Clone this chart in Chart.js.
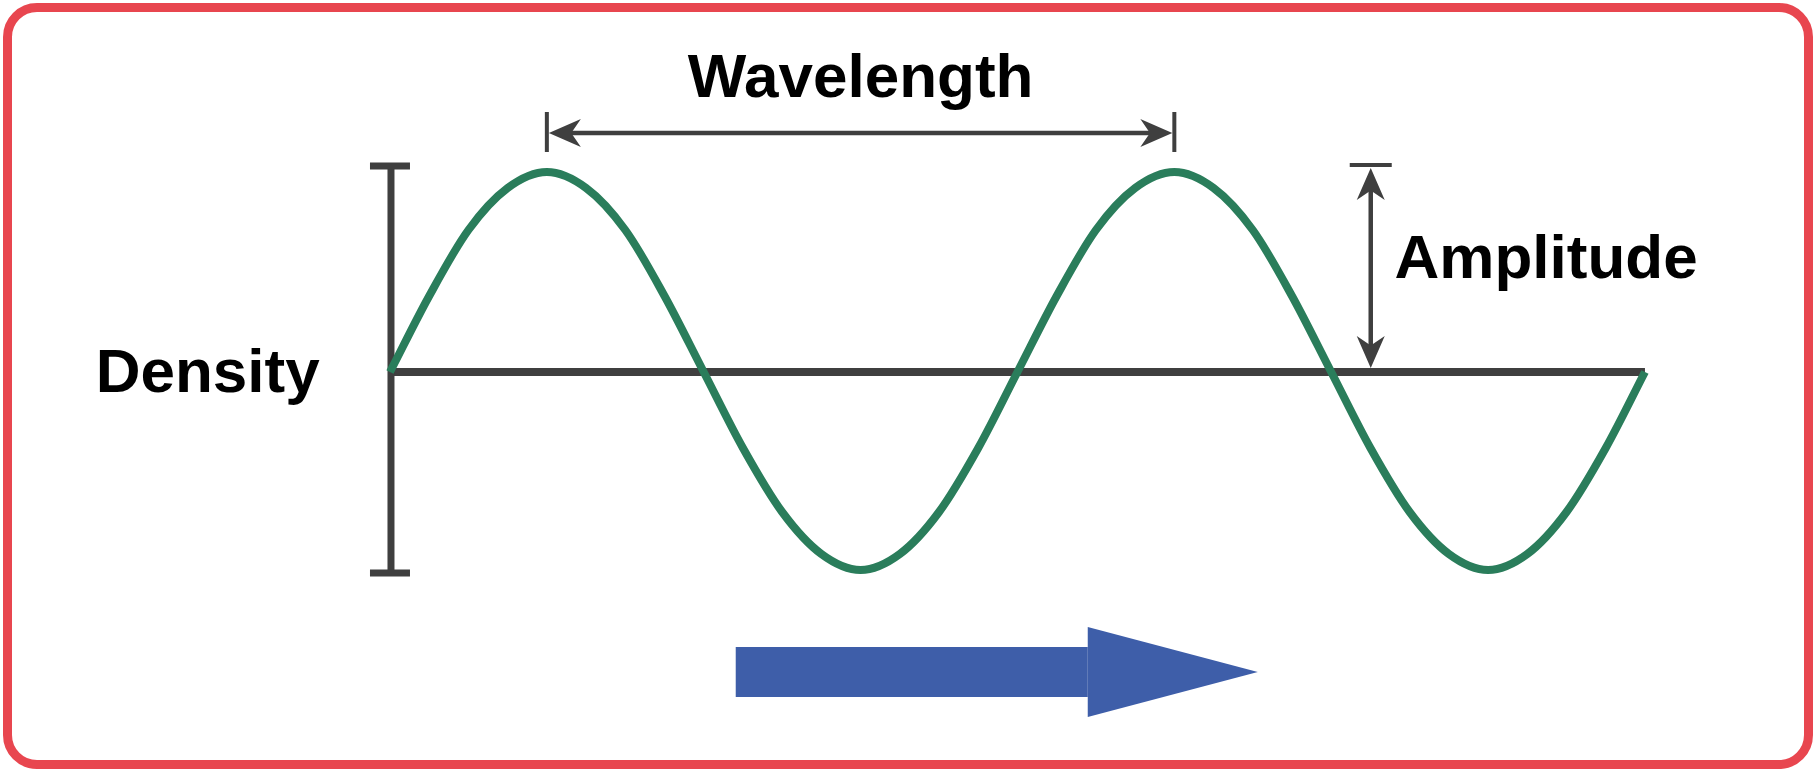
<!DOCTYPE html>
<html>
<head>
<meta charset="utf-8">
<script src="https://cdn.jsdelivr.net/npm/chart.js@4"></script>
<style>
    html, body { margin: 0; padding: 0; background: #ffffff; }
    #wrap { position: relative; width: 1815px; height: 771px; overflow: hidden; }
    #frame {
        position: absolute; left: 3px; top: 3px; width: 1810px; height: 766px;
        box-sizing: border-box; border: 9px solid #e8464f; border-radius: 34px;
        pointer-events: none;
    }
</style>
</head>
<body>
<div id="wrap">
    <canvas id="waveChart" width="1815" height="771"></canvas>
    <div id="frame"></div>
</div>
<script>
// Wave samples, read every 1/16 wavelength (x in wavelengths, y in amplitudes)
const wavePhase = [0, 0.0625, 0.125, 0.1875, 0.25, 0.3125, 0.375, 0.4375,
                   0.5, 0.5625, 0.625, 0.6875, 0.75, 0.8125, 0.875, 0.9375,
                   1, 1.0625, 1.125, 1.1875, 1.25, 1.3125, 1.375, 1.4375,
                   1.5, 1.5625, 1.625, 1.6875, 1.75, 1.8125, 1.875, 1.9375, 2];
const waveDensity = [0, 0.38, 0.71, 0.92, 1, 0.92, 0.71, 0.38,
                     0, -0.38, -0.7, -0.91, -0.99, -0.91, -0.7, -0.38,
                     0, 0.38, 0.71, 0.92, 1, 0.92, 0.71, 0.38,
                     0, -0.38, -0.7, -0.91, -0.99, -0.91, -0.7, -0.38, 0];

// Labels on the diagram
const titleWavelength = 'Wavelength';
const titleAmplitude = 'Amplitude';
const titleDensity = 'Density';

// Where the annotations sit, in the same units as the data
const layoutMarks = {
    axisEnd: 2,
    barTop: 1.03, barBottom: -1.005,
    waveArrowFrom: 0.25, waveArrowTo: 1.25, waveArrowY: 1.195,
    ampArrowX: 1.563, ampTop: 1.035,
    flowShaft: [0.551, 1.112, -1.375, -1.625],
    flowHead: [1.112, 1.383, -1.275, -1.725, -1.5],
    wavelengthText: [0.75, 1.375],
    amplitudeText: [1.601, 0.47],
    densityText: [-0.112, -0.1]
};

const DARK = '#3f3f3f';
const GREEN = '#2a7d5b';
const BLUE = '#3e5ea9';
const FONT = 'bold 62px "Liberation Sans", Arial, sans-serif';

function arrowHead(ctx, tx, ty, dx, dy, len, half) {
    // dx, dy: unit vector pointing towards the tip
    const nx = -dy, ny = dx;
    const bx = tx - dx * len, by = ty - dy * len;
    const mx = tx - dx * len * 0.7, my = ty - dy * len * 0.7;
    ctx.beginPath();
    ctx.moveTo(tx, ty);
    ctx.lineTo(bx + nx * half, by + ny * half);
    ctx.lineTo(mx, my);
    ctx.lineTo(bx - nx * half, by - ny * half);
    ctx.closePath();
    ctx.fill();
}

function line(ctx, x1, y1, x2, y2, w) {
    ctx.lineWidth = w;
    ctx.beginPath();
    ctx.moveTo(x1, y1);
    ctx.lineTo(x2, y2);
    ctx.stroke();
}

const diagramPlugin = {
    id: 'diagram',
    beforeDatasetsDraw(chart) {
        const ctx = chart.ctx;
        const px = v => chart.scales.x.getPixelForValue(v);
        const py = v => chart.scales.y.getPixelForValue(v);
        const m = layoutMarks;
        ctx.save();
        ctx.strokeStyle = DARK;
        ctx.lineCap = 'butt';
        // baseline
        line(ctx, px(0), py(0), px(m.axisEnd), py(0), 8);
        // density bar with caps
        line(ctx, px(0) + 1, py(m.barTop), px(0) + 1, py(m.barBottom), 7);
        line(ctx, px(0) - 20, py(m.barTop), px(0) + 20, py(m.barTop), 7);
        line(ctx, px(0) - 20, py(m.barBottom), px(0) + 20, py(m.barBottom), 7);
        ctx.restore();
    },
    afterDatasetsDraw(chart) {
        const ctx = chart.ctx;
        const px = v => chart.scales.x.getPixelForValue(v);
        const py = v => chart.scales.y.getPixelForValue(v);
        const m = layoutMarks;
        ctx.save();
        ctx.strokeStyle = DARK;
        ctx.fillStyle = DARK;

        // wavelength arrow
        const wy = py(m.waveArrowY);
        const wx1 = px(m.waveArrowFrom), wx2 = px(m.waveArrowTo);
        line(ctx, wx1 + 10, wy, wx2 - 10, wy, 4.5);
        line(ctx, wx1, wy - 21, wx1, wy + 19, 4);
        line(ctx, wx2, wy - 21, wx2, wy + 19, 4);
        arrowHead(ctx, wx1 + 2, wy, -1, 0, 32, 14);
        arrowHead(ctx, wx2 - 2, wy, 1, 0, 32, 14);

        // amplitude arrow
        const ax = px(m.ampArrowX);
        const aTop = py(m.ampTop), aBot = py(0) - 4;
        line(ctx, ax, aTop + 10, ax, aBot - 10, 4.5);
        line(ctx, ax - 21, aTop, ax + 21, aTop, 4);
        arrowHead(ctx, ax, aTop + 3, 0, -1, 32, 14);
        arrowHead(ctx, ax, aBot, 0, 1, 32, 14);

        // propagation arrow
        const s = m.flowShaft, h = m.flowHead;
        ctx.fillStyle = BLUE;
        ctx.fillRect(px(s[0]), py(s[2]), px(s[1]) - px(s[0]), py(s[3]) - py(s[2]));
        ctx.beginPath();
        ctx.moveTo(px(h[0]), py(h[2]));
        ctx.lineTo(px(h[1]), py(h[4]));
        ctx.lineTo(px(h[0]), py(h[3]));
        ctx.closePath();
        ctx.fill();

        // labels
        ctx.fillStyle = '#000000';
        ctx.font = FONT;
        ctx.textBaseline = 'alphabetic';
        ctx.textAlign = 'center';
        ctx.fillText(titleWavelength, px(m.wavelengthText[0]), py(m.wavelengthText[1]));
        ctx.textAlign = 'left';
        ctx.fillText(titleAmplitude, px(m.amplitudeText[0]), py(m.amplitudeText[1]));
        ctx.textAlign = 'right';
        ctx.fillText(titleDensity, px(m.densityText[0]), py(m.densityText[1]));
        ctx.restore();
    }
};

const points = wavePhase.map((p, i) => ({ x: p, y: waveDensity[i] }));

new Chart(document.getElementById('waveChart').getContext('2d'), {
    type: 'line',
    data: {
        datasets: [{
            data: points,
            borderColor: GREEN,
            borderWidth: 8,
            pointRadius: 0,
            fill: false,
            cubicInterpolationMode: 'monotone'
        }]
    },
    options: {
        responsive: false,
        devicePixelRatio: 1,
        animation: false,
        layout: { padding: 0 },
        plugins: { legend: { display: false }, tooltip: { enabled: false } },
        scales: {
            x: { type: 'linear', display: false, min: -0.6215, max: 2.271 },
            y: { type: 'linear', display: false, min: -1.995, max: 1.86 }
        }
    },
    plugins: [diagramPlugin]
});
</script>
</body>
</html>
